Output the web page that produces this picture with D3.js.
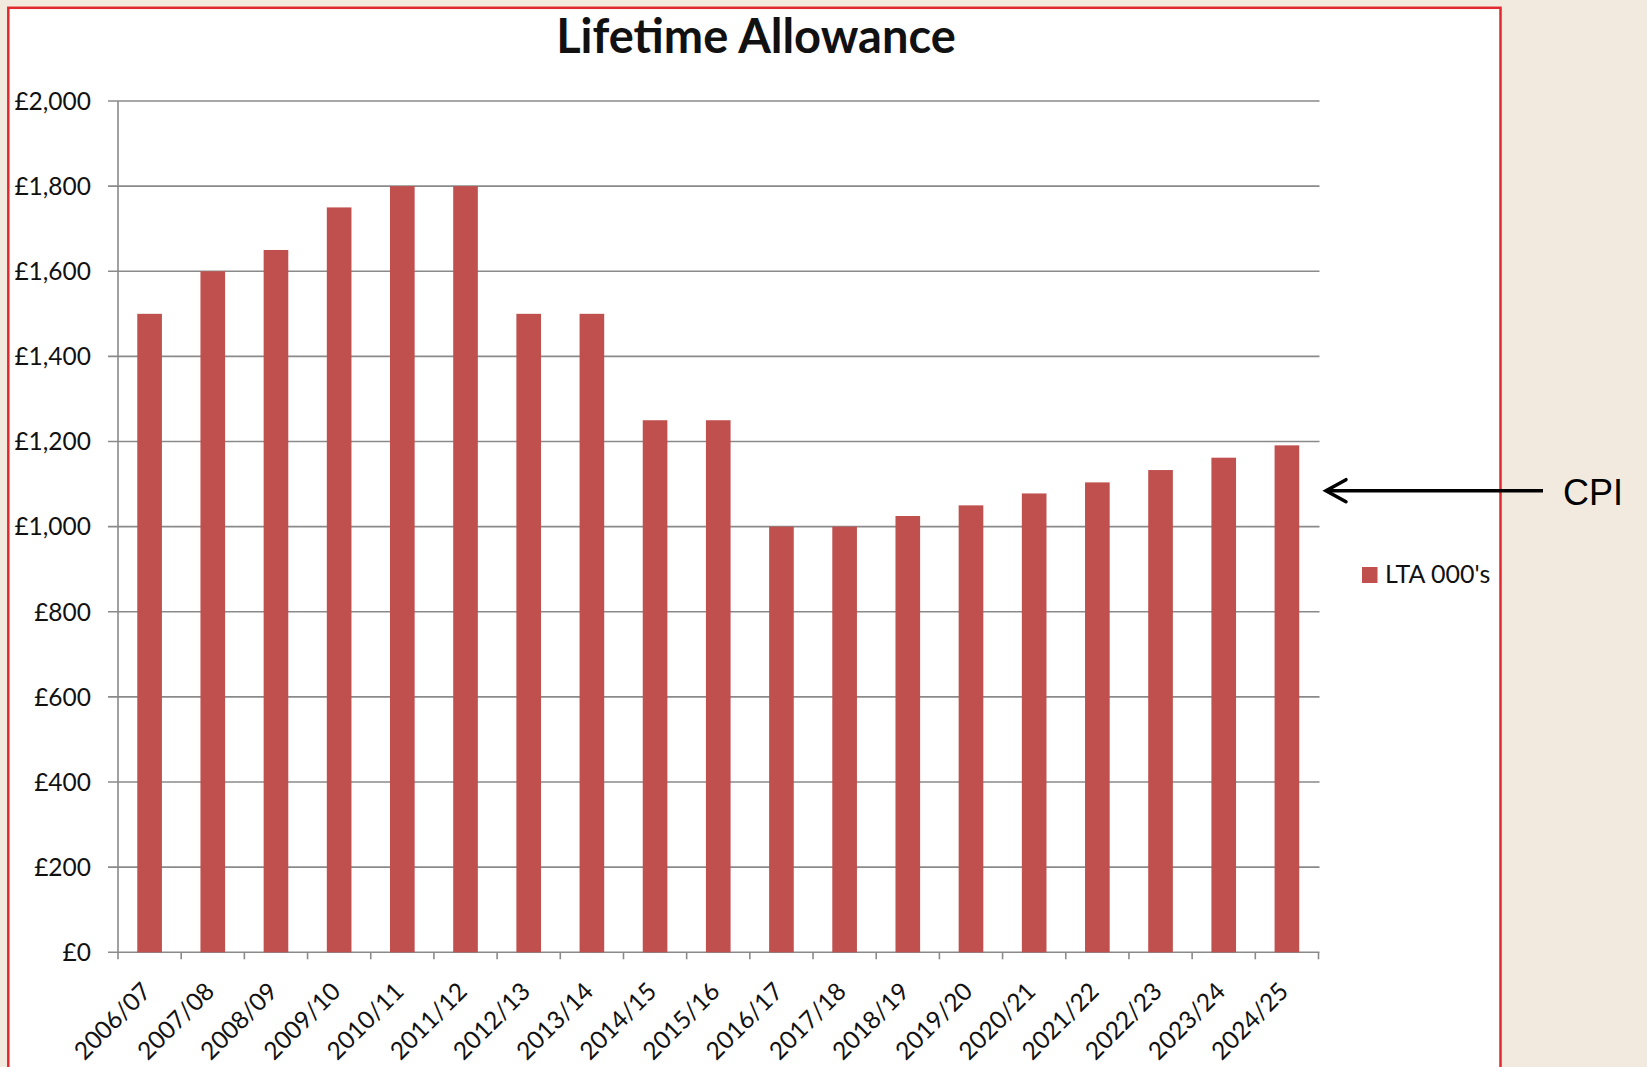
<!DOCTYPE html>
<html><head><meta charset="utf-8">
<script src="https://cdn.jsdelivr.net/npm/d3@7"></script>
<style>
html,body{margin:0;padding:0;background:#f2eadf;}
svg{display:block;}
</style></head>
<body>
<svg id="chart" width="1647" height="1067"></svg>
<script>
const categories = ["2006/07","2007/08","2008/09","2009/10","2010/11","2011/12","2012/13","2013/14","2014/15","2015/16","2016/17","2017/18","2018/19","2019/20","2020/21","2021/22","2022/23","2023/24","2024/25"];
const ltaValues = [1500,1600,1650,1750,1800,1800,1500,1500,1250,1250,1000,1000,1025,1050,1078,1104,1133,1162,1191];
const yTicks = [0,200,400,600,800,1000,1200,1400,1600,1800,2000];
const seriesName = "LTA 000's";
const chartTitle = "Lifetime Allowance";
const annotation = "CPI";

(function(){
const svg = d3.select("#chart");
const font = "Lato, 'Open Sans', sans-serif";

// chart frame
svg.append("rect").attr("x",8.3).attr("y",7.8).attr("width",1492.2).attr("height",1100)
  .attr("fill","#fff").attr("stroke","#e0282e").attr("stroke-width",2.5);

const pLeft = 118, pRight = 1318.5, pTop = 101, pBottom = 952.3;
const x = d3.scaleBand().domain(categories).range([pLeft,pRight]).paddingInner(0.61).paddingOuter(0.305);
const xb = d3.scaleBand().domain(categories).range([pLeft,pRight]);
const y = d3.scaleLinear().domain([0,2000]).range([pBottom,pTop]);

// gridlines
svg.append("g").selectAll("line").data(yTicks).join("line")
  .attr("x1",pLeft-10).attr("x2",pRight+1).attr("y1",d=>y(d)).attr("y2",d=>y(d))
  .attr("stroke","#8a8a8a").attr("stroke-width",1.6);

// y labels
svg.append("g").selectAll("text").data(yTicks).join("text")
  .attr("x",91).attr("y",d=>y(d)).attr("dy","0.36em").attr("text-anchor","end")
  .attr("font-family",font).attr("font-size",24.5).attr("fill","#111")
  .text(d=>"£"+d3.format(",")(d));

// bars
svg.append("g").selectAll("rect").data(ltaValues).join("rect")
  .attr("x",(d,i)=>x(categories[i])).attr("width",x.bandwidth())
  .attr("y",d=>y(d)).attr("height",d=>pBottom-y(d))
  .attr("fill","#c0504d");

// y axis line
svg.append("line").attr("x1",pLeft).attr("x2",pLeft).attr("y1",pTop).attr("y2",pBottom)
  .attr("stroke","#8a8a8a").attr("stroke-width",1.6);

// x ticks
const xTickPos = categories.map(c=>xb(c)).concat([pRight]);
svg.append("g").selectAll("line").data(xTickPos).join("line")
  .attr("x1",d=>d).attr("x2",d=>d).attr("y1",pBottom).attr("y2",pBottom+7)
  .attr("stroke","#8a8a8a").attr("stroke-width",1.6);

// x labels
svg.append("g").selectAll("text").data(categories).join("text")
  .attr("transform",d=>`translate(${xb(d)+xb.bandwidth()/2+3},${993}) rotate(-45)`)
  .attr("text-anchor","end").attr("font-family",font).attr("font-size",24.5).attr("fill","#111")
  .text(d=>d);

// title
svg.append("text").attr("x",756).attr("y",52.5).attr("text-anchor","middle")
  .attr("font-family",font).attr("font-weight",700).attr("font-size",47).attr("fill","#111")
  .text(chartTitle);

// legend
svg.append("rect").attr("x",1362).attr("y",567).attr("width",15.5).attr("height",16).attr("fill","#c0504d");
svg.append("text").attr("x",1385).attr("y",583).attr("font-family",font).attr("font-size",25).attr("fill","#111")
  .text(seriesName);

// CPI annotation arrow
const ay = 490.7;
svg.append("line").attr("x1",1543).attr("x2",1327).attr("y1",ay).attr("y2",ay)
  .attr("stroke","#000").attr("stroke-width",3.5);
svg.append("path").attr("d",`M1346,${ay-11} L1326,${ay} L1346,${ay+11}`)
  .attr("fill","none").attr("stroke","#000").attr("stroke-width",3.5).attr("stroke-linecap","round").attr("stroke-linejoin","miter");
svg.append("text").attr("x",1563).attr("y",505).attr("font-family","'Liberation Sans', Arial, sans-serif")
  .attr("font-size",36).attr("fill","#000").text(annotation);
})();
</script>
</body></html>
